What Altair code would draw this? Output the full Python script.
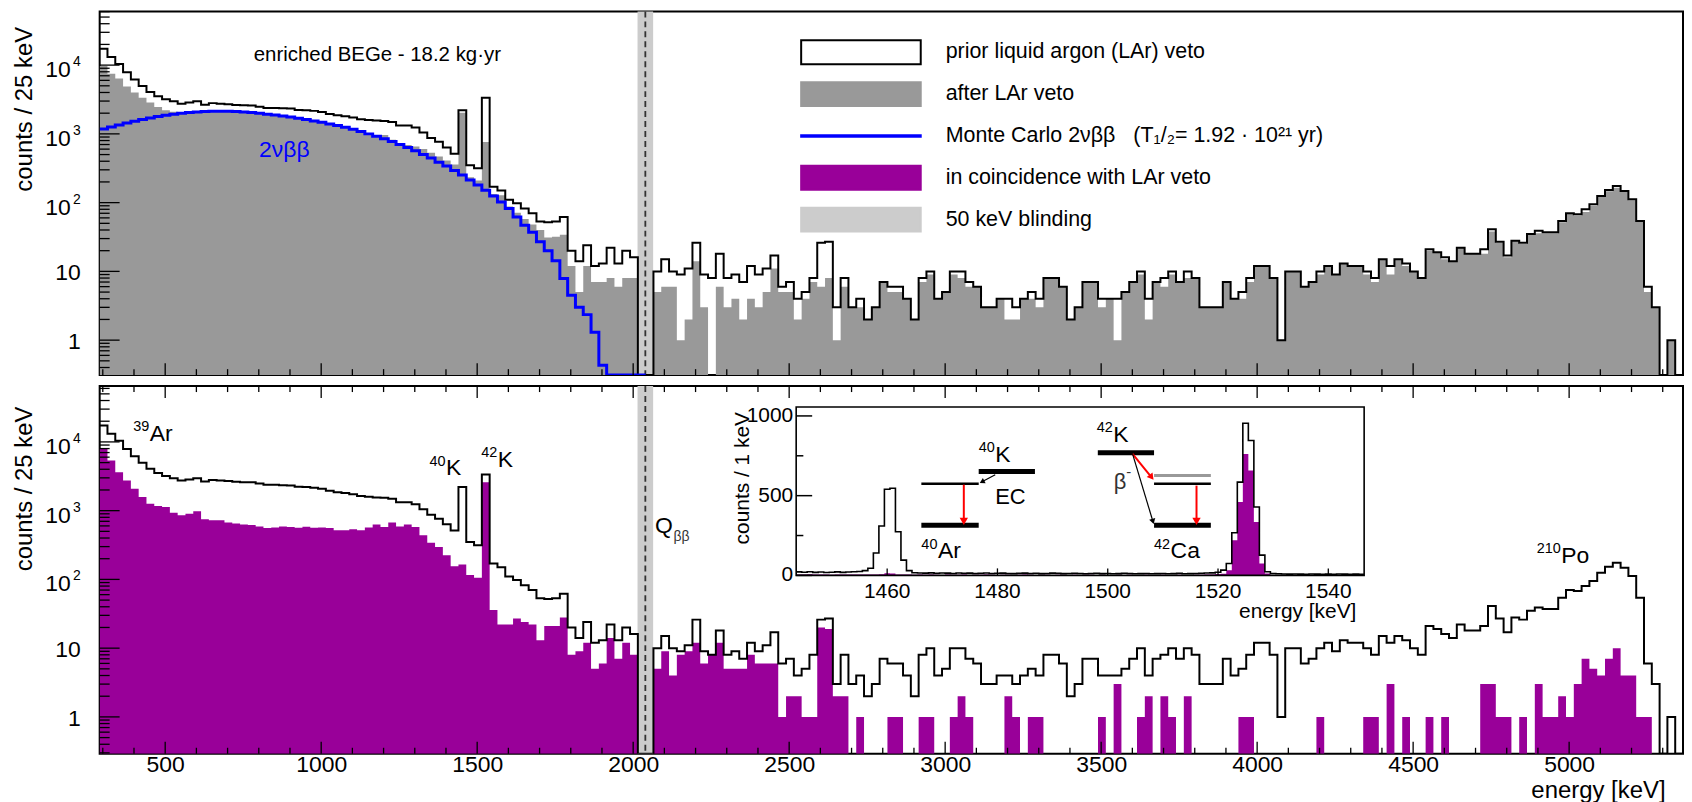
import altair as alt
import numpy as np
import pandas as pd

# ===================== values =====================
BIN_START = 290      # keV, lower edge of first 25 keV bin
BIN_WIDTH = 25

# counts / 25 keV before the LAr veto (black outline, both panels)
prior_lar = [
    17300, 13100, 10400, 7900, 6200, 4960, 4060, 3520, 3180, 2970,
    2750, 2850, 2970, 2660, 2800, 2750, 2690, 2630, 2600, 2580,
    2490, 2380, 2380, 2350, 2330, 2230, 2200, 2160, 2080, 1950,
    1860, 1800, 1730, 1630, 1590, 1560, 1540, 1490, 1320, 1320,
    1235, 1045, 870, 765, 635, 515, 2200, 350, 315, 3360,
    170, 150, 110, 98, 82, 70, 53, 52, 53, 62,
    20, 14, 24, 12, 13, 22, 13, 20, 16, 0,
    0, 10, 15, 10, 9, 11, 26, 9, 8, 18,
    8, 9, 7, 12, 9, 11, 17, 6, 7, 4,
    5, 8, 26, 27, 3, 8, 3, 4, 2, 3,
    7, 6, 6, 4, 2, 8, 10, 4, 5, 10,
    10, 7, 6, 3, 3, 4, 4, 3, 4, 5,
    4, 8, 8, 6, 2, 3, 7, 7, 4, 4,
    4, 5, 7, 10, 4, 7, 8, 10, 7, 10,
    8, 3, 3, 3, 7, 4, 5, 8, 12, 12,
    8, 1, 10, 10, 6, 7, 10, 12, 9, 13,
    12, 12, 10, 8, 15, 12, 15, 13, 10, 8,
    21, 19, 16, 14, 22, 18, 18, 21, 41, 27,
    17, 28, 26, 35, 39, 37, 37, 54, 70, 68,
    80, 95, 125, 153, 175, 148, 112, 54, 6, 3,
    0, 1, 0]

# counts / 25 keV after the LAr veto (grey fill, top panel)
after_lar = [
    9700, 7500, 6400, 4900, 4000, 3350, 2850, 2450, 2200, 2100,
    2050, 2100, 2150, 2170, 2190, 2190, 2190, 2170, 2150, 2100,
    2050, 1990, 1940, 1880, 1820, 1740, 1665, 1595, 1520, 1430,
    1360, 1280, 1195, 1110, 1020, 960, 960, 820, 730, 690,
    655, 605, 530, 468, 410, 359, 2035, 234, 209, 760,
    134, 128, 88, 71, 58, 48, 40, 31, 32, 34,
    12, 5, 12, 7, 7, 8, 6, 8, 8, 0,
    0, 5, 6, 6, 1, 2, 14, 3, 0, 6,
    3, 4, 2, 4, 3, 5, 11, 5, 5, 2,
    4, 7, 6, 8, 1, 6, 3, 3, 2, 3,
    7, 5, 5, 4, 2, 7, 9, 4, 5, 9,
    8, 6, 6, 3, 3, 4, 2, 2, 4, 4,
    3, 8, 8, 6, 2, 3, 7, 7, 3, 4,
    1, 5, 7, 9, 2, 7, 6, 9, 7, 8,
    8, 3, 3, 3, 7, 4, 4, 7, 12, 12,
    8, 1, 10, 10, 6, 7, 9, 12, 9, 13,
    12, 12, 9, 7, 15, 9, 15, 12, 10, 8,
    20, 19, 15, 14, 22, 18, 18, 18, 38, 26,
    16, 28, 25, 35, 36, 36, 36, 52, 69, 65,
    73, 90, 121, 146, 165, 144, 108, 53, 5, 3,
    0, 1, 0]

# counts / 25 keV in coincidence with the LAr veto (purple fill, bottom panel)
coinc_lar = [
    7900, 5360, 3630, 2750, 2080, 1580, 1260, 1170, 1130, 935,
    855, 905, 980, 750, 725, 725, 670, 650, 630, 620,
    590, 560, 570, 590, 580, 565, 585, 565, 570, 560,
    520, 520, 535, 520, 570, 630, 580, 670, 590, 630,
    580, 440, 340, 297, 225, 156, 165, 116, 106, 2600,
    36, 22, 22, 27, 24, 22, 13, 21, 21, 28,
    8, 9, 12, 5, 6, 14, 7, 12, 8, 0,
    0, 5, 9, 4, 8, 9, 12, 6, 8, 12,
    5, 5, 5, 8, 6, 6, 6, 1, 2, 2,
    1, 1, 20, 19, 2, 2, 0, 1, 0, 0,
    0, 1, 1, 0, 0, 1, 1, 0, 0, 1,
    2, 1, 0, 0, 0, 0, 2, 1, 0, 1,
    1, 0, 0, 0, 0, 0, 0, 0, 1, 0,
    3, 0, 0, 1, 2, 0, 2, 1, 0, 2,
    0, 0, 0, 0, 0, 0, 1, 1, 0, 0,
    0, 0, 0, 0, 0, 0, 1, 0, 0, 0,
    0, 0, 1, 1, 0, 3, 0, 1, 0, 0,
    1, 0, 1, 0, 0, 0, 0, 3, 3, 1,
    1, 0, 1, 0, 3, 1, 1, 2, 1, 3,
    7, 5, 4, 7, 10, 4, 4, 1, 1, 0,
    0, 0, 0]

# Monte Carlo 2nbb, counts / 25 keV, bins from 290 to 2040 keV (blue)
mc_2nbb = [
    1181, 1263, 1350, 1443, 1526, 1614, 1706, 1783, 1865, 1928,
    1994, 2038, 2084, 2107, 2132, 2132, 2132, 2107, 2084, 2038,
    1994, 1928, 1885, 1823, 1763, 1687, 1614, 1543, 1476, 1396,
    1321, 1249, 1168, 1081, 1000, 925, 847, 774, 700, 634,
    567, 501, 444, 388, 340, 294, 252, 213, 181, 151,
    125, 102, 82, 62, 47, 37, 27, 20, 14.3, 7.9,
    4.5, 3.0, 2.35, 1.3, 0.43, 0.1, 0.1, 0.1, 0.1, 0.1]

# inset: counts / 1 keV, bins centred on 1444 ... 1546 keV
INSET_START = 1443.5
inset_prior = (
    [22, 20, 23, 19, 21, 18, 20, 22, 19, 21, 23, 24]
    + [30, 45, 140, 310, 540, 546, 274, 96, 30]
    + [17, 15, 14, 16, 13, 15, 14, 12, 15, 13, 14, 12, 13, 15, 12, 13, 14, 12,
       11, 13, 14, 12, 13, 11, 12, 14, 13, 11, 12, 13, 12, 10, 12, 13, 11, 12,
       10, 11, 13, 12, 10, 11, 12, 10, 11, 12, 10, 11, 13, 10, 11, 12, 13, 15]
    + [16, 20, 33, 75, 267, 585, 954, 846, 429, 127, 23]
    + [12, 10, 9, 8, 9, 8, 7, 9, 8, 7, 8, 7, 9, 8, 7, 8, 7])
inset_coinc = (
    [6, 5, 7, 5, 6, 5, 4, 6, 5, 6, 5, 6]
    + [6, 5, 6, 7, 14, 12, 6, 5, 5]
    + [4, 5, 4, 5, 4, 3, 5, 4, 4, 5, 3, 4, 4, 5, 4, 3, 4, 4,
       3, 4, 5, 4, 3, 4, 4, 3, 4, 4, 3, 4, 3, 4, 4, 3, 4, 3,
       3, 4, 3, 4, 3, 3, 4, 3, 3, 4, 3, 3, 4, 3, 3, 4, 4, 5]
    + [6, 8, 10, 33, 221, 460, 762, 658, 335, 75, 12]
    + [3, 2, 2, 3, 2, 2, 1, 2, 2, 1, 2, 1, 2, 2, 1, 2, 1])

legend_labels = [
    "prior liquid argon (LAr) veto",
    "after LAr veto",
    "Monte Carlo 2\u03bd\u03b2\u03b2\u00a0\u00a0\u00a0(T\u2081/\u2082= 1.92 \u00b7 10\u00b2\u00b9 yr)",
    "in coincidence with LAr veto",
    "50 keV blinding",
]
x_tick_values = [500, 1000, 1500, 2000, 2500, 3000, 3500, 4000, 4500, 5000]
inset_x_ticks = [1460, 1480, 1500, 1520, 1540]
inset_y_ticks = [0, 500, 1000]
Q_BB = 2039
BLIND_LO, BLIND_HI = 2014, 2064

# ===================== layout / style =====================
FONT = "Liberation Sans"
W = 1589
H1 = 365
H2 = 369
XDOM = [290, 5365]
Y1DOM = [0.31, 60400]
Y2DOM = [0.291, 64900]
FLOOR = 0.01
GREY = "#999999"
PURPLE = "#990099"
BAND = "#cccccc"
BLUE = "#0000ff"

xs = alt.Scale(domain=XDOM, nice=False, zero=False)
ys1 = alt.Scale(type="log", domain=Y1DOM, nice=False, clamp=True)
ys2 = alt.Scale(type="log", domain=Y2DOM, nice=False, clamp=True)
xsi = alt.Scale(domain=[INSET_START, INSET_START + len(inset_prior)], range=[699, 1269], nice=False, zero=False)
ysi = alt.Scale(domain=[0, 1056], range=[190, 21], nice=False, zero=False)


def yaxis(ty):
    return alt.Axis(labels=False, ticks=False, domain=False, grid=False,
                    title="counts / 25 keV", titleFont=FONT, titleFontSize=24,
                    titleFontWeight="normal", titleColor="black", titleAngle=270,
                    titleAlign="right", titleBaseline="alphabetic", titleX=-68, titleY=ty)


XAX = alt.Axis(values=x_tick_values, format="d", ticks=False, domain=False, grid=False,
               labelFont=FONT, labelFontSize=23, labelColor="black", labelPadding=0,
               labelFlush=False, labelOverlap=False,
               title="energy [keV]", titleFont=FONT, titleFontSize=24,
               titleFontWeight="normal", titleColor="black", titleAlign="right",
               titleBaseline="top", titleX=W - 18, titleY=25)


def X1(f="e"):
    return alt.X(f"{f}:Q", scale=xs, axis=None)


def Y1(f="c"):
    return alt.Y(f"{f}:Q", scale=ys1, axis=yaxis(15), stack=None)


def X2(f="e"):
    return alt.X(f"{f}:Q", scale=xs, axis=XAX)


def Y2(f="c"):
    return alt.Y(f"{f}:Q", scale=ys2, axis=yaxis(20), stack=None)


def XI(f="e"):
    return alt.X(f"{f}:Q", scale=xsi, axis=None)


def YI(f="c"):
    return alt.Y(f"{f}:Q", scale=ysi, axis=None, stack=None)


def step_frame(vals, start, width):
    v = [float(a) if a > 0 else FLOOR for a in vals]
    edges = start + width * np.arange(len(v) + 1)
    return pd.DataFrame({"e": edges, "c": v + [v[-1]]})


def text_layer(e, c, t, X, Y, **kw):
    d = pd.DataFrame({"e": [e], "c": [c], "t": [t]})
    props = dict(font=FONT, color="black")
    props.update(kw)
    return alt.Chart(d).mark_text(**props).encode(x=X(), y=Y(), text="t:N")


def sup_label(e, c, sup, main, X, Y, fs=23, sfs=14.5, sdy=-10, color="black"):
    supw = 0.556 * sfs * len(sup) + 0.5
    return [
        text_layer(e, c, sup, X, Y, fontSize=sfs, align="left", baseline="alphabetic", dy=sdy, color=color),
        text_layer(e, c, main, X, Y, fontSize=fs, align="left", baseline="alphabetic", dx=supw, color=color),
    ]


def minor_decades(lo, hi):
    out = []
    for d in [0.1, 1, 10, 100, 1000, 10000]:
        for m in range(2, 10):
            v = m * d
            if lo <= v <= hi:
                out.append(v)
    return out


def common_layers(X, H):
    L = []
    band = pd.DataFrame({"e": [BLIND_LO], "e2": [BLIND_HI]})
    L.append(alt.Chart(band).mark_rect(color=BAND).encode(
        x=X(), x2=alt.X2("e2:Q"), y=alt.value(0), y2=alt.value(H)))
    L.append(alt.Chart(pd.DataFrame({"e": [Q_BB]})).mark_rule(
        color="#333333", strokeDash=[6, 4], strokeWidth=1.8).encode(
        x=X(), y=alt.value(0), y2=alt.value(H)))
    return L


def tick_layers(X, Y, H, ydom, top_ticks):
    L = []
    major = pd.DataFrame({"e": x_tick_values})
    minor = pd.DataFrame({"e": [v for v in range(300, 5301, 100) if v % 500]})
    L.append(alt.Chart(major).mark_rule(color="black", strokeWidth=1.3).encode(
        x=X(), y=alt.value(H), y2=alt.value(H - 12)))
    L.append(alt.Chart(minor).mark_rule(color="black", strokeWidth=1.3).encode(
        x=X(), y=alt.value(H), y2=alt.value(H - 6)))
    if top_ticks:
        L.append(alt.Chart(major).mark_rule(color="black", strokeWidth=1.3).encode(
            x=X(), y=alt.value(0), y2=alt.value(12)))
        L.append(alt.Chart(minor).mark_rule(color="black", strokeWidth=1.3).encode(
            x=X(), y=alt.value(0), y2=alt.value(6)))
    ymaj = pd.DataFrame({"c": [1, 10, 100, 1000, 10000]})
    ymin = pd.DataFrame({"c": minor_decades(ydom[0], ydom[1])})
    L.append(alt.Chart(ymaj).mark_rule(color="black", strokeWidth=1.3).encode(
        y=Y(), x=alt.value(0), x2=alt.value(20)))
    L.append(alt.Chart(ymin).mark_rule(color="black", strokeWidth=1.3).encode(
        y=Y(), x=alt.value(0), x2=alt.value(10)))
    # tick labels on the log axis (10^n with raised exponent)
    plain = pd.DataFrame({"c": [1, 10], "t": ["1", "10"]})
    powm = pd.DataFrame({"c": [100, 1000, 10000], "t": ["10", "10", "10"]})
    pows = pd.DataFrame({"c": [100, 1000, 10000], "t": ["2", "3", "4"]})
    L.append(alt.Chart(plain).mark_text(font=FONT, fontSize=23, align="right", baseline="middle", dy=2, color="black")
             .encode(x=alt.value(-19), y=Y(), text="t:N"))
    L.append(alt.Chart(powm).mark_text(font=FONT, fontSize=23, align="right", baseline="middle", dy=5, color="black")
             .encode(x=alt.value(-29), y=Y(), text="t:N"))
    L.append(alt.Chart(pows).mark_text(font=FONT, fontSize=14, align="right", baseline="middle", dy=-3, color="black")
             .encode(x=alt.value(-19), y=Y(), text="t:N"))
    return L


# ===================== top panel =====================
top_layers = []
top_layers.append(alt.Chart(step_frame(after_lar, BIN_START, BIN_WIDTH)).mark_area(
    interpolate="step-after", color=GREY, clip=True).encode(x=X1(), y=Y1(), y2=alt.value(H1)))
top_layers += common_layers(X1, H1)
top_layers.append(alt.Chart(step_frame(prior_lar, BIN_START, BIN_WIDTH)).mark_line(
    interpolate="step-after", color="black", strokeWidth=2, clip=True).encode(x=X1(), y=Y1()))
top_layers.append(alt.Chart(step_frame(mc_2nbb, BIN_START, BIN_WIDTH)).mark_line(
    interpolate="step-after", color=BLUE, strokeWidth=3, clip=True).encode(x=X1(), y=Y1()))
top_layers += tick_layers(X1, Y1, H1, Y1DOM, False)
top_layers.append(text_layer(1180, 11480, "enriched BEGe - 18.2 kg\u00b7yr", X1, Y1,
                             fontSize=20.5, align="center", baseline="alphabetic"))
top_layers.append(text_layer(801, 466, "2\u03bd\u03b2\u03b2", X1, Y1, fontSize=23,
                             align="left", baseline="alphabetic", color=BLUE))

# legend symbols: 120 x 24 px boxes (path spans 10 x 2 units, unit = sqrt(size)/2 = 12 px)
box = "M-5,-1L5,-1L5,1L-5,1Z"
thin = "M-5,-0.06L5,-0.06L5,0.06L-5,0.06Z"
LEG = alt.Legend(orient="none", legendX=751, legendY=28, title=None, symbolSize=576,
                 symbolStrokeWidth=2, labelFont=FONT, labelFontSize=21.5, labelColor="black",
                 labelOffset=72, rowPadding=10, gridAlign="all", labelLimit=0,
                 symbolOpacity=1, padding=0, labelBaseline="middle")
leg_df = pd.DataFrame({"entry": legend_labels, "e": [1000] * 5, "c": [10] * 5})
top_layers.append(alt.Chart(leg_df).transform_filter("false").mark_point(
    filled=True, opacity=1, size=576).encode(
    x=X1(), y=Y1(),
    fill=alt.Fill("entry:N", scale=alt.Scale(domain=legend_labels,
                  range=["white", GREY, BLUE, PURPLE, BAND]), legend=LEG),
    stroke=alt.Stroke("entry:N", scale=alt.Scale(domain=legend_labels,
                      range=["black", GREY, BLUE, PURPLE, BAND]), legend=LEG),
    shape=alt.Shape("entry:N", scale=alt.Scale(domain=legend_labels,
                    range=[box, box, thin, box, box]), legend=LEG)))

top = alt.layer(*top_layers).properties(width=W, height=H1)

# ===================== bottom panel =====================
bot_layers = []
bot_layers.append(alt.Chart(step_frame(coinc_lar, BIN_START, BIN_WIDTH)).mark_area(
    interpolate="step-after", color=PURPLE, clip=True).encode(x=X2(), y=Y2(), y2=alt.value(H2)))
bot_layers += common_layers(X2, H2)
bot_layers.append(alt.Chart(step_frame(prior_lar, BIN_START, BIN_WIDTH)).mark_line(
    interpolate="step-after", color="black", strokeWidth=2, clip=True).encode(x=X2(), y=Y2()))
bot_layers += tick_layers(X2, Y2, H2, Y2DOM, True)
bot_layers += sup_label(397.6, 10450, "39", "Ar", X2, Y2)
bot_layers += sup_label(1347, 3250, "40", "K", X2, Y2)
bot_layers += sup_label(1513, 4340, "42", "K", X2, Y2)
bot_layers += sup_label(4896, 171, "210", "Po", X2, Y2)
bot_layers.append(text_layer(2070, 470, "Q", X2, Y2, fontSize=23, align="left", baseline="alphabetic"))
bot_layers.append(text_layer(2070, 470, "\u03b2\u03b2", X2, Y2, fontSize=14, align="left",
                             baseline="alphabetic", dx=18.5, dy=8, color="#333333"))
bottom_main = alt.layer(*bot_layers)

# ----- inset -----
ins = []
frame_df = pd.DataFrame({"e": [INSET_START], "e2": [INSET_START + len(inset_prior)], "c": [0], "c2": [1056]})
ins.append(alt.Chart(frame_df).mark_rect(color="white").encode(
    x=XI(), x2=alt.X2("e2:Q"), y=YI(), y2=alt.Y2("c2:Q")))
ins.append(alt.Chart(step_frame(inset_coinc, INSET_START, 1)).mark_area(
    interpolate="step-after", color=PURPLE).encode(x=XI(), y=YI(), y2=alt.datum(0)))
ins.append(alt.Chart(step_frame(inset_prior, INSET_START, 1)).mark_line(
    interpolate="step-after", color="black", strokeWidth=1.6).encode(x=XI(), y=YI()))
ins.append(alt.Chart(frame_df).mark_rect(fillOpacity=0, stroke="black", strokeWidth=1.6).encode(
    x=XI(), x2=alt.X2("e2:Q"), y=YI(), y2=alt.Y2("c2:Q")))
yt = pd.DataFrame({"c": inset_y_ticks, "e": [INSET_START] * 3, "e2": [INSET_START + 2.9] * 3})
ytm = pd.DataFrame({"c": [250, 750], "e": [INSET_START] * 2, "e2": [INSET_START + 1.3] * 2})
xt = pd.DataFrame({"e": inset_x_ticks, "c": [0] * 5, "c2": [44] * 5})
for d in (yt, ytm):
    ins.append(alt.Chart(d).mark_rule(color="black", strokeWidth=1.5).encode(
        x=XI(), x2=alt.X2("e2:Q"), y=YI()))
ins.append(alt.Chart(xt).mark_rule(color="black", strokeWidth=1.3).encode(
    x=XI(), y=YI(), y2=alt.Y2("c2:Q")))
ins.append(alt.Chart(pd.DataFrame({"e": inset_x_ticks, "c": [0] * 5, "t": [str(v) for v in inset_x_ticks]}))
           .mark_text(font=FONT, fontSize=21, align="center", baseline="top", dy=6, color="black")
           .encode(x=XI(), y=YI(), text="t:N"))
ins.append(alt.Chart(pd.DataFrame({"e": [INSET_START] * 3, "c": inset_y_ticks, "t": [str(v) for v in inset_y_ticks]}))
           .mark_text(font=FONT, fontSize=21, align="right", baseline="middle", dx=-3, color="black")
           .encode(x=XI(), y=YI(), text="t:N"))
ins.append(text_layer(1435.0, 1025, "counts / 1 keV", XI, YI, fontSize=21, angle=270,
                      align="right", baseline="alphabetic"))
ins.append(text_layer(1545.1, -162, "energy [keV]", XI, YI, fontSize=21, align="right", baseline="top"))

# level schemes of 40K and 42K
thick = pd.DataFrame({"e": [1476.6, 1466.2, 1498.2, 1508.4], "e2": [1486.8, 1476.6, 1508.4, 1518.7],
                      "c": [652, 314, 769, 314]})
thinl = pd.DataFrame({"e": [1466.2, 1508.4], "e2": [1476.6, 1518.7], "c": [575, 575]})
greyl = pd.DataFrame({"e": [1508.4], "e2": [1518.7], "c": [627]})
ins.append(alt.Chart(thick).mark_rule(color="black", strokeWidth=5).encode(x=XI(), x2=alt.X2("e2:Q"), y=YI()))
ins.append(alt.Chart(thinl).mark_rule(color="black", strokeWidth=2.5).encode(x=XI(), x2=alt.X2("e2:Q"), y=YI()))
ins.append(alt.Chart(greyl).mark_rule(color=GREY, strokeWidth=3).encode(x=XI(), x2=alt.X2("e2:Q"), y=YI()))

red_arrows = pd.DataFrame({"e": [1473.9, 1516.1, 1504.5], "e2": [1473.9, 1516.1, 1507.95],
                           "c": [569, 563, 762], "c2": [335, 335, 615]})
blk_arrows = pd.DataFrame({"e": [1479.6, 1504.5], "e2": [1477.2, 1508.2], "c": [631, 762], "c2": [587, 338]})
ins.append(alt.Chart(red_arrows).mark_rule(color="red", strokeWidth=2).encode(
    x=XI(), x2=alt.X2("e2:Q"), y=YI(), y2=alt.Y2("c2:Q")))
ins.append(alt.Chart(blk_arrows).mark_rule(color="black", strokeWidth=1.2).encode(
    x=XI(), x2=alt.X2("e2:Q"), y=YI(), y2=alt.Y2("c2:Q")))
for (e, c, ang, col, sz) in [(1473.9, 339, 180, "red", 70), (1516.1, 339, 180, "red", 70),
                             (1507.95, 615, 142, "red", 55), (1477.2, 587, 242, "black", 35),
                             (1508.2, 338, 164, "black", 40)]:
    ins.append(alt.Chart(pd.DataFrame({"e": [e], "c": [c]})).mark_point(
        shape="triangle-up", filled=True, opacity=1, color=col, size=sz, angle=ang).encode(x=XI(), y=YI()))

ins += sup_label(1476.6, 712, "40", "K", XI, YI)
ins += sup_label(1466.2, 106, "40", "Ar", XI, YI)
ins += sup_label(1498.0, 837, "42", "K", XI, YI)
ins += sup_label(1508.4, 106, "42", "Ca", XI, YI)
ins.append(text_layer(1479.6, 450, "EC", XI, YI, fontSize=22, align="left", baseline="alphabetic"))
ins.append(text_layer(1501.1, 544, "\u03b2", XI, YI, fontSize=22, align="left", baseline="alphabetic", color="#333333"))
ins.append(text_layer(1501.1, 544, "-", XI, YI, fontSize=15, align="left", baseline="alphabetic",
                      dx=12.5, dy=-12, color="#333333"))
inset = alt.layer(*ins)

bottom = alt.layer(bottom_main, inset).resolve_scale(x="independent", y="independent").properties(
    width=W, height=H2)

chart = alt.vconcat(top, bottom, spacing=7).resolve_legend(
    fill="independent", stroke="independent", shape="independent").properties(
    padding={"left": 4, "top": 0, "right": 0, "bottom": 0}
).configure(font=FONT).configure_view(stroke="black", strokeWidth=2)

chart.save("out.html", embed_options={"renderer": "svg", "actions": False})
